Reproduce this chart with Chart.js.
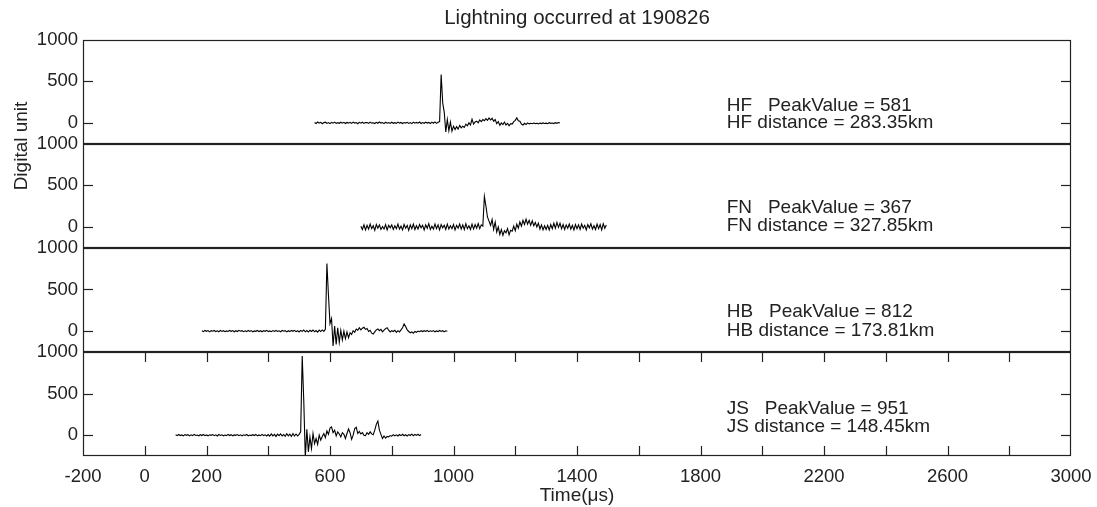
<!DOCTYPE html>
<html>
<head>
<meta charset="utf-8">
<script src="https://cdn.jsdelivr.net/npm/chart.js@4/dist/chart.umd.min.js"></script>
<style>
  html, body { margin: 0; padding: 0; background: #fff; }
  #wrap { width: 1097px; height: 507px; position: relative; }
</style>
</head>
<body>
<div id="wrap"><canvas id="chart"></canvas></div>
<script>
// ── Data ─────────────────────────────────────────────────────────────────────

const stations = ["HF", "FN", "HB", "JS"];
const peakValues = [581, 367, 812, 951];
const distances = ["283.35", "327.85", "173.81", "148.45"];

// first sample time (µs) of each record, samples every 5 µs
const startTimes = [550, 700, 185, 100];
const sampleStep = 5;

const hfValues = [
  5, -8, 10, -4, 6, -10, 3, 8, -6, 4, -9, 7, -3, 9, -7, 2, -5, 8, -4, 6,
  -8, 5, -3, 7, -6, 9, -2, 4, -10, 6, -4, 8, -7, 3, 5, -6, 9, -3, 2, -8,
  6, -5, 10, -2, 4, -9, 7, -4, 3, -7, 8, -5, 2, -6, 9, -3, 5, -8, 4, -2,
  7, -6, 3, -9, 8, -4, 6, -3, 10, -7, 4, -5, 8, -2, 5, -8, 9, -4, 12, -6,
  8, 15, 581, 240, 130, -110, 40, -95, 10, -100,
  -40, -80, -45, -75, -30, -60, -40, -55, -15, -35,
  0, -25, 45, -15, 10, 20, 0, 35, 15, 40,
  25, 50, 30, 60, 35, 55, 20, 40, -10, 15,
  -30, 0, -20, 10, -25, -5, -35, -10, -15, 15,
  30, 60, 25, 20, -15, -25, -5, -20, 0, -12,
  -4, -10, -2, -9, -5, -12, -3, -8, 0, -7,
  -3, -9, 2, -6, -1, -8, 3, -5, 4, -2
];

const fnValues = [
  10, -30, 25, -35, 20, -25, 35, -20, 15, -40, 30, -15, 25, -30, 5, -25, 30, -35, 20, -10,
  25, -30, 15, -20, 35, -25, 10, -35, 30, -15, 20, -40, 25, -20, 35, -30, 15, -25, 30, -10,
  20, -35, 25, -15, 40, -30, 10, -25, 35, -20, 25, -35, 30, -10, 20, -30, 35, -25, 15, -20,
  30, -35, 20, -15, 35, -25, 25, -30, 40, -20, 15, -30, 35, -25, 30, -15, 40, -20, 25, 10,
  367, 250, 120, 70, 20, 90, -30, 60, -60, 0,
  -90, -30, -100, -45, -70, -20, -95, -40, -50, 10,
  -45, 35, -15, 60, 10, 80, 30, 95, 35, 80,
  20, 75, 15, 55, 0, 45, -25, 25, -35, 15,
  -30, 20, -35, 30, -20, 45, -15, 55, -5, 45,
  -20, 30, -30, 25, -15, 35, -25, 20, -35, 30,
  -20, 25, -30, 35, -15, 20, -35, 30, -10, 40,
  -25, 15, -30, 35, -20, 30, -35, 40, -15, 25
];

const hbValues = [
  4, -7, 8, -3, 6, -9, 5, -2, 7, -6, 3, -8, 9, -4, 5, -7, 2, -5, 8, -3,
  6, -8, 4, -5, 9, -2, 5, -7, 3, -6, 8, -4, 6, -9, 2, -3, 7, -6, 4, -8,
  5, -3, 9, -6, 2, -7, 6, -4, 8, -5, 3, -8, 7, -2, 5, -9, 4, -6, 8, -3,
  9, -7, 5, -10, 8, -4, 12, -9, 6, -11, 10, -5, 13, -8, 7, -12, 11, -6, 14, -4,
  20, 812, 430, 90, 150, -180, 60, -160, 40, -135,
  10, -105, 0, -90, -10, -80, -20, -40, 5, -15,
  25, 10, 40, 15, 35, 45, 20, 30, -5, 10,
  -25, -35, -10, 15, 25, 5, 20, -10, 10, 30,
  40, 10, -10, 5, -5, 10, -15, 5, -10, 15,
  40, 85, 55, 15, -5, -20, -10, -25, -5, -15,
  0, -8, 4, -6, 5, -4, 8, -7, 3, -5,
  6, -9, 2, -6, 7, -4, 5, -8, 3, -2
];

const jsValues = [
  5, -6, 8, -4, 3, -9, 7, -2, 6, -8, 4, -5, 9, -3, 2, -7, 6, -4, 8, -6,
  3, -8, 5, -2, 7, -6, 4, -9, 8, -3, 5, -7, 2, -5, 9, -4, 6, -8, 3, -2,
  7, -6, 4, -9, 5, -3, 8, -7, 2, -5, 6, -4, 9, -8, 3, -6, 10, -5, 4, -9,
  8, -12, 15, -8, 10, -15, 12, -6, 16, -10, 8, -14, 18, -9, 12, -16, 20, -11, 14, -8,
  10, 40, 951, 420, -270, 70, -200, -20, -160, 20,
  -100, -40, -110, 0, -60, -15, 20, -30, 50, 10,
  85, 100, 30, 60, -10, 40, 15, -20, 30, 10,
  -40, 20, 75, 30, -50, 0, 80, 95, 20, 45,
  15, 30, 0, -5, 30, 10, 40, 15, 5, 60,
  130, 170, 60, 10, -40, -10, -35, -15, -20, -5,
  -12, 6, -8, 4, -10, 8, -5, 10, -7, 5,
  -9, 7, -4, 12, -6, 9, -3, 11, -5, 8
];

const seriesValues = [hfValues, fnValues, hbValues, jsValues];

// axis ticks
const xTicks = [-200, 0, 200, 400, 600, 800, 1000, 1200, 1400, 1600, 1800,
  2000, 2200, 2400, 2600, 2800, 3000];
const xLabelled = [-200, 0, 200, 600, 1000, 1400, 1800, 2200, 2600, 3000];
const yTicks = [0, 500, 1000];
const yMarks = [0, 500];

// ── Layout / style ───────────────────────────────────────────────────────────

const FONT = "'Liberation Sans', Arial, Helvetica, sans-serif";
const INK = "#222";
const panelIds = ["yHF", "yFN", "yHB", "yJS"];
const textX = 1885;
const textY = [[207, -2], [231, 16], [231, 4], [315, 100]];
const TICK = 10;

function toPoints(values, start) {
  return values.map((v, i) => ({ x: start + i * sampleStep, y: v }));
}

function panelScale(idx) {
  return {
    type: "linear",
    position: "left",
    stack: "panels",
    stackWeight: 1,
    weight: 4 - idx,
    min: -250,
    max: 1000,
    grid: { display: false, drawTicks: false },
    border: { display: false },
    ticks: {
      color: INK,
      font: { family: FONT, size: 18.5 },
      padding: 5,
      callback: (v) => String(v),
    },
    afterBuildTicks: (s) => { s.ticks = yTicks.map((v) => ({ value: v })); },
    afterFit: (s) => {
      s.width = 83;
      s.paddingTop = 0;
      s.paddingBottom = 0;
    },
  };
}

// frames, inner tick marks, labels and annotations
const decorPlugin = {
  id: "decor",
  afterDraw(chart) {
    const ctx = chart.ctx;
    const xs = chart.scales.x;
    const L = chart.chartArea.left, R = chart.chartArea.right;
    ctx.save();
    ctx.strokeStyle = INK;
    ctx.lineWidth = 1.2;

    const line = (x1, y1, x2, y2) => {
      ctx.beginPath(); ctx.moveTo(x1, y1); ctx.lineTo(x2, y2); ctx.stroke();
    };

    panelIds.forEach((id) => {
      const s = chart.scales[id];
      const top = Math.round(s.top), bot = Math.round(s.bottom);
      ctx.strokeRect(L + 0.5, top + 0.5, R - L - 1, bot - top - 1);
      yMarks.forEach((v) => {
        const yy = Math.round(s.getPixelForValue(v)) + 0.5;
        line(L, yy, L + TICK, yy);
        line(R - TICK, yy, R, yy);
      });
    });

    const last = chart.scales[panelIds[panelIds.length - 1]];
    xTicks.slice(1, -1).forEach((t) => {
      const px = Math.round(xs.getPixelForValue(t)) + 0.5;
      line(px, Math.round(last.bottom), px, Math.round(last.bottom) - TICK);
      line(px, Math.round(last.top), px, Math.round(last.top) + TICK);
    });

    ctx.fillStyle = INK;
    ctx.font = "19px " + FONT;
    ctx.textBaseline = "middle";

    // station annotations
    ctx.textAlign = "left";
    stations.forEach((st, i) => {
      const s = chart.scales[panelIds[i]];
      const tx = xs.getPixelForValue(textX);
      ctx.fillText(st + "   PeakValue = " + peakValues[i], tx, s.getPixelForValue(textY[i][0]));
      ctx.fillText(st + " distance = " + distances[i] + "km", tx, s.getPixelForValue(textY[i][1]));
    });

    // axis titles
    ctx.textAlign = "center";
    ctx.fillText("Time(\u03bcs)", (L + R) / 2, 496);
    ctx.translate(22, 146);
    ctx.rotate(-Math.PI / 2);
    ctx.fillText("Digital unit", 0, 0);
    ctx.restore();
  },
};

const scales = {
  x: {
    type: "linear",
    position: "bottom",
    min: -200,
    max: 3000,
    grid: { display: false, drawTicks: false },
    border: { display: false },
    ticks: {
      autoSkip: false,
      maxRotation: 0,
      padding: 10,
      color: INK,
      font: { family: FONT, size: 18.5 },
      callback: (v) => (xLabelled.includes(v) ? String(v) : ""),
    },
    afterBuildTicks: (s) => { s.ticks = xTicks.map((v) => ({ value: v })); },
    afterFit: (s) => {
      s.height = 51;
      s.paddingLeft = 0;
      s.paddingRight = 0;
    },
  },
};
panelIds.forEach((id, i) => { scales[id] = panelScale(i); });

new Chart(document.getElementById("chart"), {
  type: "line",
  data: {
    datasets: stations.map((st, i) => ({
      label: st,
      data: toPoints(seriesValues[i], startTimes[i]),
      xAxisID: "x",
      yAxisID: panelIds[i],
      borderColor: "#000",
      borderWidth: 1.1,
      pointRadius: 0,
      tension: 0,
      fill: false,
    })),
  },
  options: {
    responsive: true,
    maintainAspectRatio: false,
    animation: false,
    layout: { padding: { left: 0, right: 26, top: 0, bottom: 0 } },
    plugins: {
      legend: { display: false },
      tooltip: { enabled: false },
      title: {
        display: true,
        text: "Lightning occurred at 190826",
        fullSize: false,
        color: INK,
        font: { family: FONT, size: 20.5, weight: "normal" },
        padding: { top: 6, bottom: 9 },
      },
    },
    scales,
  },
  plugins: [decorPlugin],
});
</script>
</body>
</html>
